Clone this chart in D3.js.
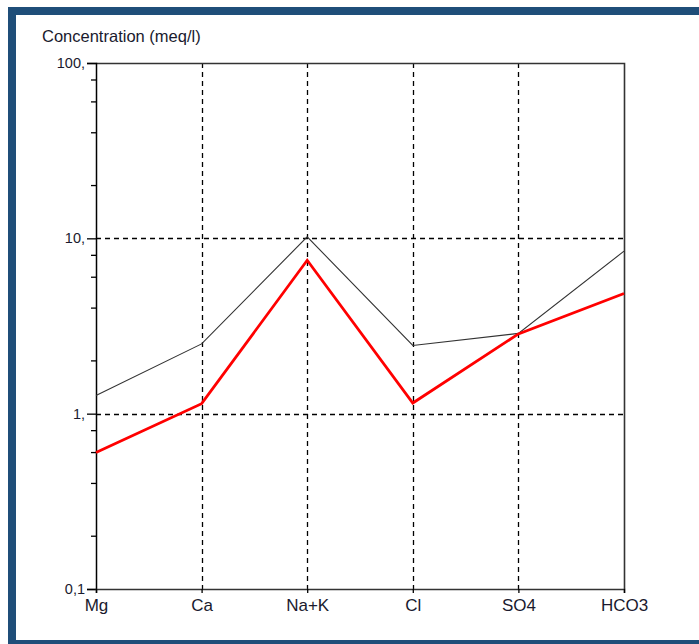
<!DOCTYPE html>
<html>
<head>
<meta charset="utf-8">
<script src="https://cdn.jsdelivr.net/npm/d3@7"></script>
<style>
  html, body { margin: 0; padding: 0; background: #fff; }
  svg { display: block; }
  text { font-family: "Liberation Sans", Arial, sans-serif; fill: #1a1a2e; }
</style>
</head>
<body>
<script>
// Schoeller diagram: ion concentrations (meq/l) on a log axis
const ions = ["Mg", "Ca", "Na+K", "Cl", "SO4", "HCO3"];
const sampleA = [1.27, 2.5, 10.2, 2.45, 2.87, 8.45];   // thin dark line
const sampleB = [0.60, 1.14, 7.5, 1.15, 2.85, 4.85];   // thick red line
const majorTicks = [0.1, 1, 10, 100];
const majorLabels = ["0,1", "1,", "10,", "100,"];
const minorTicks = [0.2, 0.4, 0.6, 0.8, 2, 4, 6, 8, 20, 40, 60, 80];
const gridValues = [1, 10];
const axisTitle = "Concentration (meq/l)";

const W = 699, H = 644;
const plot = { left: 96, right: 624, top: 63, bottom: 589 };

const svg = d3.select("body").append("svg")
  .attr("width", W).attr("height", H);

// window frame
const frame = "#1f4e79";
svg.append("rect").attr("x", 0).attr("y", 0).attr("width", W).attr("height", H).attr("fill", "#fff");
svg.append("rect").attr("x", 8).attr("y", 7).attr("width", W - 8).attr("height", 8).attr("fill", frame);
svg.append("rect").attr("x", 8).attr("y", 7).attr("width", 8).attr("height", H - 7).attr("fill", frame);
svg.append("rect").attr("x", 8).attr("y", 640).attr("width", W - 8).attr("height", 4).attr("fill", frame);

const x = d3.scalePoint().domain(ions).range([plot.left, plot.right]);
const y = d3.scaleLog().domain([0.1, 100]).range([plot.bottom, plot.top]);

// dashed grid
const grid = svg.append("g").attr("stroke", "#000").attr("stroke-width", 1.3)
  .attr("stroke-dasharray", "5,4").attr("fill", "none");
grid.selectAll("line.h").data(gridValues).join("line")
  .attr("class", "h")
  .attr("x1", plot.left).attr("x2", plot.right)
  .attr("y1", d => Math.round(y(d)) + 0.5).attr("y2", d => Math.round(y(d)) + 0.5);
grid.selectAll("line.v").data(ions.slice(1, -1)).join("line")
  .attr("class", "v")
  .attr("x1", d => Math.round(x(d)) + 0.5).attr("x2", d => Math.round(x(d)) + 0.5)
  .attr("y1", plot.top).attr("y2", plot.bottom);

// top and right edges of the plot box
svg.append("path")
  .attr("d", `M${plot.left},${plot.top + 0.5}H${plot.right + 0.5}V${plot.bottom}`)
  .attr("fill", "none").attr("stroke", "#333").attr("stroke-width", 1.6);

// left axis (log)
const yAxis = d3.axisLeft(y).tickValues(majorTicks)
  .tickFormat((d, i) => majorLabels[i]).tickSize(9).tickPadding(2);
const gy = svg.append("g").attr("transform", `translate(${plot.left},0)`).call(yAxis);
gy.select(".domain").attr("stroke", "#000").attr("stroke-width", 1.5);
gy.selectAll(".tick line").attr("stroke", "#000").attr("stroke-width", 1.3);
gy.selectAll(".tick text").attr("font-size", 14.5).attr("fill", "#1a1a2e")
  .attr("font-family", "Liberation Sans, Arial, sans-serif");
gy.selectAll("line.minor").data(minorTicks).join("line")
  .attr("class", "minor")
  .attr("x1", -5).attr("x2", 0)
  .attr("y1", d => y(d)).attr("y2", d => y(d))
  .attr("stroke", "#000").attr("stroke-width", 1.3);

// bottom axis (ions)
const xAxis = d3.axisBottom(x).tickSize(4).tickPadding(6);
const gx = svg.append("g").attr("transform", `translate(0,${plot.bottom})`).call(xAxis);
gx.select(".domain").attr("stroke", "#333").attr("stroke-width", 1.6);
gx.selectAll(".tick line").attr("stroke", "#000").attr("stroke-width", 1.3);
gx.selectAll(".tick text").attr("font-size", 17).attr("fill", "#1a1a2e")
  .attr("font-family", "Liberation Sans, Arial, sans-serif");

// axis title
svg.append("text").attr("x", 42).attr("y", 42)
  .attr("font-size", 16.5).text(axisTitle);

// sample lines
const line = d3.line().x((d, i) => x(ions[i])).y(d => y(d));
svg.append("path").datum(sampleA).attr("d", line)
  .attr("fill", "none").attr("stroke", "#333").attr("stroke-width", 1.1);
svg.append("path").datum(sampleB).attr("d", line)
  .attr("fill", "none").attr("stroke", "#ff0000").attr("stroke-width", 2.8)
  .attr("stroke-linejoin", "miter");
</script>
</body>
</html>
